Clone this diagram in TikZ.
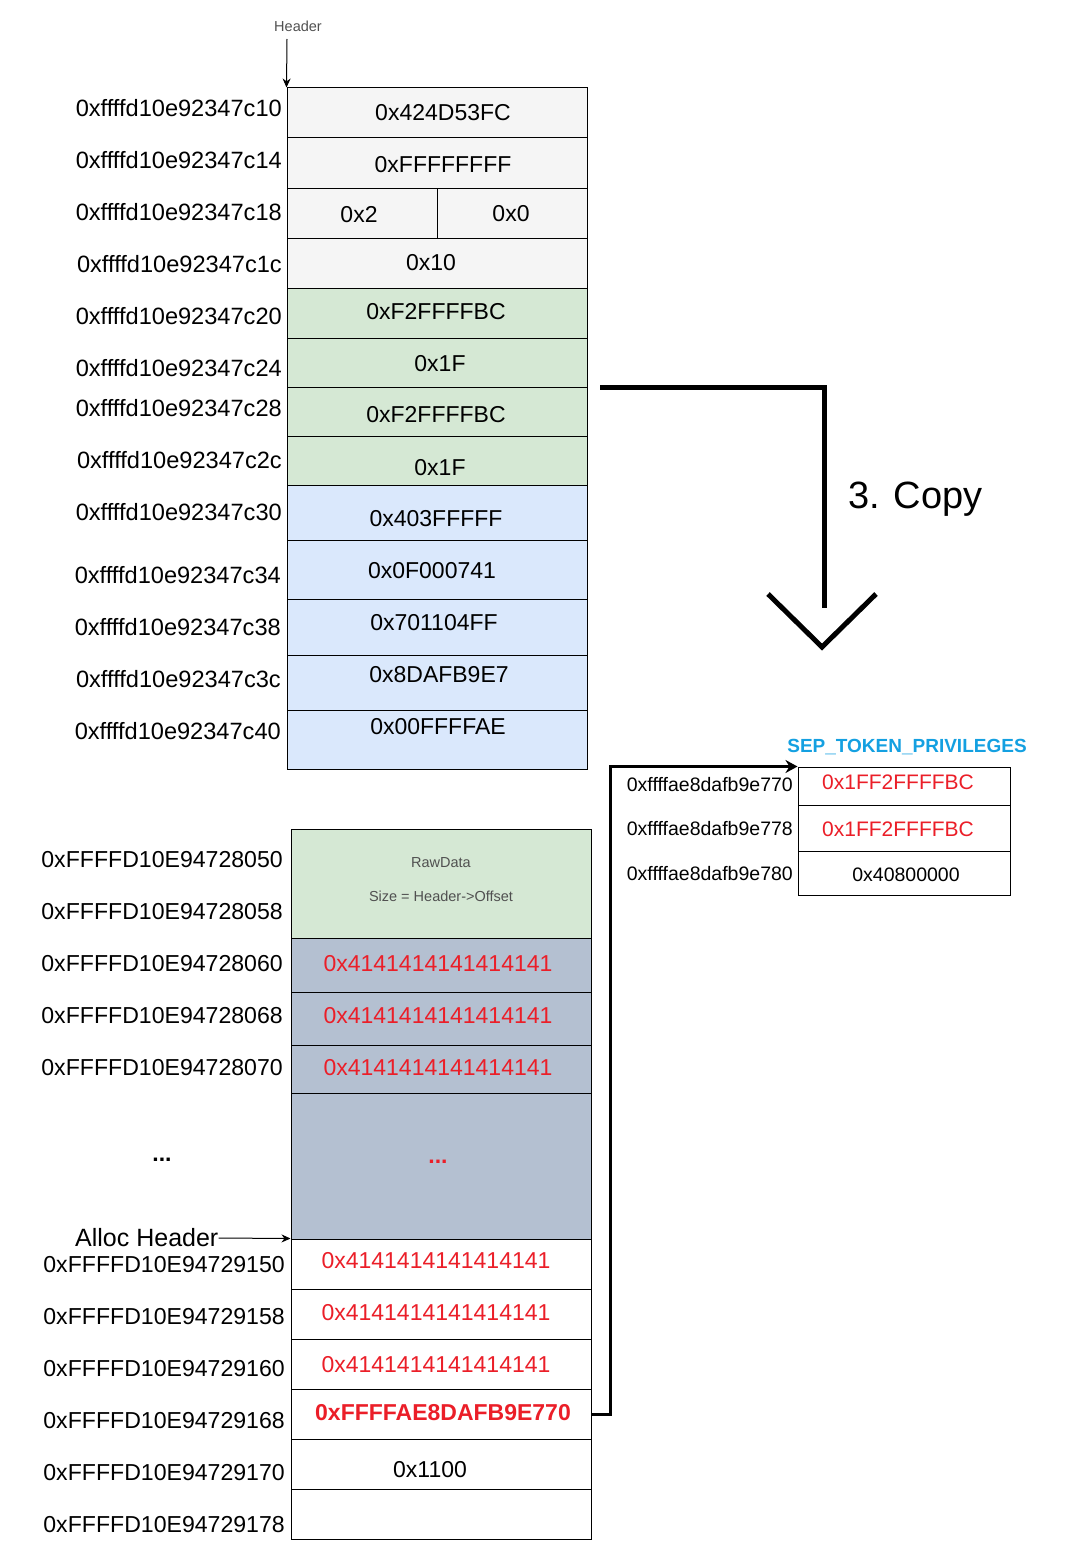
\documentclass[tikz,border=0pt]{standalone}
\usepackage{fontspec}
\setmainfont{Liberation Sans}
\usetikzlibrary{arrows.meta}
\definecolor{topgray}{HTML}{F5F5F5}
\definecolor{lgreen}{HTML}{D5E8D4}
\definecolor{lblue}{HTML}{DAE8FC}
\definecolor{slate}{RGB}{180,192,209}
\definecolor{hred}{RGB}{235,30,40}
\definecolor{sepblue}{RGB}{20,160,225}
\definecolor{hgray}{RGB}{80,80,80}
\begin{document}
\begin{tikzpicture}[x=1pt,y=-1pt,
  cell/.style={draw=black,line width=1pt,inner sep=0pt,minimum width=300pt,anchor=center},
  half/.style={cell,minimum width=150pt},
  sepcell/.style={cell,minimum width=212pt},
  val/.style={inner sep=0pt,font=\fontsize{23}{27}\selectfont,anchor=center},
  rval/.style={val,text=hred},
  addr/.style={inner sep=0pt,font=\fontsize{23.6}{27}\selectfont,anchor=east},
  baddr/.style={inner sep=0pt,font=\fontsize{23.1}{27}\selectfont,anchor=east},
  saddr/.style={inner sep=0pt,font=\fontsize{19.5}{23}\selectfont,anchor=east},
  small/.style={inner sep=0pt,font=\fontsize{14.5}{17}\selectfont,text=hgray,anchor=center},
  thinarrow/.style={line width=1pt,-{Stealth[length=9pt,width=8pt]}},
  bigline/.style={line width=5pt},
  ptrline/.style={line width=3pt,-{Stealth[length=12pt,width=13pt]}}
]
\useasboundingbox (0,0) rectangle (1080,1552);

% ---------- top table ----------
\node[cell,fill=topgray,minimum height=50pt] (r1) at (437,113) {};
\node[cell,fill=topgray,minimum height=50pt] (r2) at (437,163) {};
\node[half,fill=topgray,minimum height=50pt] (r3a) at (362,213) {};
\node[half,fill=topgray,minimum height=50pt] (r3b) at (512,213) {};
\node[cell,fill=topgray,minimum height=50pt] (r4) at (437,263) {};
\node[cell,fill=lgreen,minimum height=50pt] (g1) at (437,313) {};
\node[cell,fill=lgreen,minimum height=49pt] (g2) at (437,362.5) {};
\node[cell,fill=lgreen,minimum height=49pt] (g3) at (437,411.5) {};
\node[cell,fill=lgreen,minimum height=49pt] (g4) at (437,460.5) {};
\node[cell,fill=lblue,minimum height=55pt] (b1) at (437,512.5) {};
\node[cell,fill=lblue,minimum height=59pt] (b2) at (437,569.5) {};
\node[cell,fill=lblue,minimum height=56pt] (b3) at (437,627) {};
\node[cell,fill=lblue,minimum height=55pt] (b4) at (437,682.5) {};
\node[cell,fill=lblue,minimum height=59pt] (b5) at (437,739.5) {};

\node[val] (t1) at (443,113) {0x424D53FC};
\node[val] (t2) at (443,165) {0xFFFFFFFF};
\node[val] (t3a) at (359,215) {0x2};
\node[val] (t3b) at (511,214) {0x0};
\node[val] (t4) at (431,263) {0x10};
\node[val] (tg1) at (436,312) {0xF2FFFFBC};
\node[val] (tg2) at (440,364) {0x1F};
\node[val] (tg3) at (436,415) {0xF2FFFFBC};
\node[val] (tg4) at (440,468) {0x1F};
\node[val] (tb1) at (436,519) {0x403FFFFF};
\node[val] (tb2) at (432,571) {0x0F000741};
\node[val] (tb3) at (434,623) {0x701104FF};
\node[val] (tb4) at (439,675) {0x8DAFB9E7};
\node[val] (tb5) at (438,727) {0x00FFFFAE};

\node[addr] (a1) at (282,108) {0xffffd10e92347c10};
\node[addr] (a2) at (282,160) {0xffffd10e92347c14};
\node[addr] (a3) at (282,212) {0xffffd10e92347c18};
\node[addr] (a4) at (282,264) {0xffffd10e92347c1c};
\node[addr] (a5) at (282,316) {0xffffd10e92347c20};
\node[addr] (a6) at (282,368) {0xffffd10e92347c24};
\node[addr] (a7) at (282,408) {0xffffd10e92347c28};
\node[addr] (a8) at (282,460) {0xffffd10e92347c2c};
\node[addr] (a9) at (282,512) {0xffffd10e92347c30};
\node[addr] (a10) at (281,575) {0xffffd10e92347c34};
\node[addr] (a11) at (281,627) {0xffffd10e92347c38};
\node[addr] (a12) at (281,679) {0xffffd10e92347c3c};
\node[addr] (a13) at (281,731) {0xffffd10e92347c40};

% header arrow
\node[small] (hdr) at (298,26) {Header};
\coordinate (hdrstart) at (287,39);
\draw[thinarrow] (hdrstart) -- (r1.north west);

% ---------- copy arrow ----------
\coordinate (c0) at (600,387);
\coordinate (c1) at (824,387);
\coordinate (c2) at (824,608);
\draw[bigline] (c0) -- (c1) -- (c2);
\coordinate (v1) at (768,594);
\coordinate (v2) at (822,647);
\coordinate (v3) at (876,594);
\draw[bigline] (v1) -- (v2) -- (v3);
\node[inner sep=0pt,font=\fontsize{38}{44}\selectfont,anchor=west] (copy) at (848,499) {3. Copy};

% ---------- bottom table ----------
\node[cell,fill=lgreen,minimum height=109pt] (raw) at (441,883.5) {};
\node[cell,fill=slate,minimum height=54pt] (q1) at (441,965) {};
\node[cell,fill=slate,minimum height=53pt] (q2) at (441,1018.5) {};
\node[cell,fill=slate,minimum height=48pt] (q3) at (441,1069) {};
\node[cell,fill=slate,minimum height=146pt] (q4) at (441,1166) {};
\node[cell,fill=white,minimum height=50pt] (w1) at (441,1264) {};
\node[cell,fill=white,minimum height=50pt] (w2) at (441,1314) {};
\node[cell,fill=white,minimum height=50pt] (w3) at (441,1364) {};
\node[cell,fill=white,minimum height=50pt] (w4) at (441,1414) {};
\node[cell,fill=white,minimum height=50pt] (w5) at (441,1464) {};
\node[cell,fill=white,minimum height=50pt] (w6) at (441,1514) {};

\node[small] (rawt) at (441,863) {RawData};
\node[small] (rawsz) at (441,896) {Size = Header->Offset};
\node[rval] (tq1) at (438,964) {0x4141414141414141};
\node[rval] (tq2) at (438,1016) {0x4141414141414141};
\node[rval] (tq3) at (438,1068) {0x4141414141414141};
\node[rval,font=\bfseries\fontsize{23}{27}\selectfont] (tq4) at (438,1162) {...};
\node[rval] (tw1) at (436,1261) {0x4141414141414141};
\node[rval] (tw2) at (436,1313) {0x4141414141414141};
\node[rval] (tw3) at (436,1365) {0x4141414141414141};
\node[rval,font=\bfseries\fontsize{23}{27}\selectfont] (tw4) at (443,1413) {0xFFFFAE8DAFB9E770};
\node[val] (tw5) at (430,1470) {0x1100};

\node[baddr] (d1) at (283,860) {0xFFFFD10E94728050};
\node[baddr] (d2) at (283,912) {0xFFFFD10E94728058};
\node[baddr] (d3) at (283,964) {0xFFFFD10E94728060};
\node[baddr] (d4) at (283,1016) {0xFFFFD10E94728068};
\node[baddr] (d5) at (283,1068) {0xFFFFD10E94728070};
\node[val,font=\bfseries\fontsize{23}{27}\selectfont] (ddots) at (162,1160) {...};
\node[baddr] (d6) at (285,1265) {0xFFFFD10E94729150};
\node[baddr] (d7) at (285,1317) {0xFFFFD10E94729158};
\node[baddr] (d8) at (285,1369) {0xFFFFD10E94729160};
\node[baddr] (d9) at (285,1421) {0xFFFFD10E94729168};
\node[baddr] (d10) at (285,1473) {0xFFFFD10E94729170};
\node[baddr] (d11) at (285,1525) {0xFFFFD10E94729178};

% alloc header
\node[inner sep=0pt,font=\fontsize{25}{29}\selectfont,anchor=west] (alloc) at (75,1238) {Alloc Header};
\draw[thinarrow] (alloc.east) -- (w1.north west);

% ---------- SEP_TOKEN_PRIVILEGES ----------
\node[sepcell,fill=white,minimum height=38pt] (s1) at (904,786) {};
\node[sepcell,fill=white,minimum height=46pt] (s2) at (904,828) {};
\node[sepcell,fill=white,minimum height=44pt] (s3) at (904,873) {};
\node[inner sep=0pt,font=\bfseries\fontsize{19}{23}\selectfont,text=sepblue] (sept) at (907,747) {SEP\_TOKEN\_PRIVILEGES};
\node[rval,font=\fontsize{21}{25}\selectfont] (ts1) at (898,782) {0x1FF2FFFFBC};
\node[rval,font=\fontsize{21}{25}\selectfont] (ts2) at (898,829) {0x1FF2FFFFBC};
\node[val,font=\fontsize{19.5}{23}\selectfont] (ts3) at (906,875) {0x40800000};
\node[saddr] (e1) at (793,785) {0xffffae8dafb9e770};
\node[saddr] (e2) at (793,829) {0xffffae8dafb9e778};
\node[saddr] (e3) at (793,874) {0xffffae8dafb9e780};

% pointer connector
\coordinate (bend) at (610,1414);
\draw[ptrline] (w4.east) -- (bend) |- (s1.north west);
\end{tikzpicture}
\end{document}
